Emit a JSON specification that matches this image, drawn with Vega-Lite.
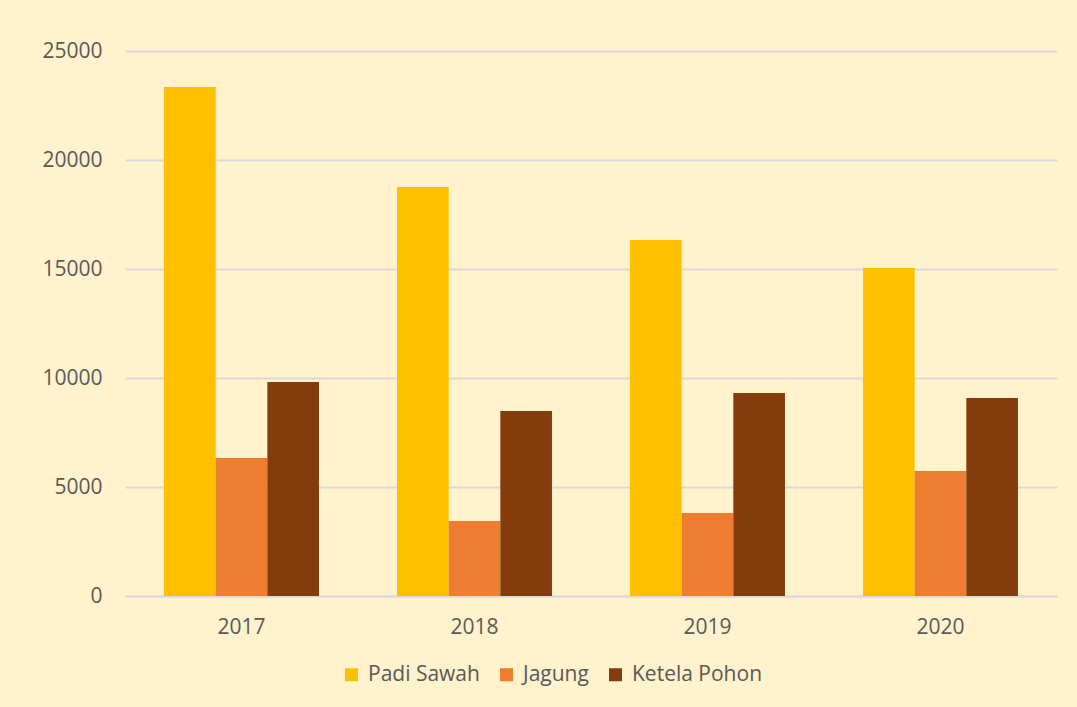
{
  "$schema": "https://vega.github.io/schema/vega-lite/v6.json",
  "width": 932,
  "height": 545,
  "autosize": {"type": "none"},
  "padding": {"left": 125, "top": 51, "right": 20, "bottom": 111},
  "background": "#FFF2CC",
  "data": {
    "values": [
      {"year": "2017", "crop": "Padi Sawah", "value": 23350},
      {"year": "2017", "crop": "Jagung", "value": 6330},
      {"year": "2017", "crop": "Ketela Pohon", "value": 9820},
      {"year": "2018", "crop": "Padi Sawah", "value": 18760},
      {"year": "2018", "crop": "Jagung", "value": 3440},
      {"year": "2018", "crop": "Ketela Pohon", "value": 8490},
      {"year": "2019", "crop": "Padi Sawah", "value": 16330},
      {"year": "2019", "crop": "Jagung", "value": 3810},
      {"year": "2019", "crop": "Ketela Pohon", "value": 9310},
      {"year": "2020", "crop": "Padi Sawah", "value": 15050},
      {"year": "2020", "crop": "Jagung", "value": 5730},
      {"year": "2020", "crop": "Ketela Pohon", "value": 9080}
    ]
  },
  "mark": {"type": "bar"},
  "encoding": {
    "x": {
      "field": "year", "type": "nominal", "title": null,
      "scale": {"paddingInner": 0.335, "paddingOuter": 0.1675},
      "axis": {"labelAngle": 0, "labelFont": "Open Sans", "labelFontSize": 21, "labelColor": "#595959",
               "labelPadding": 20, "ticks": false, "domainColor": "#D9D9D9", "domainWidth": 2}
    },
    "xOffset": {"field": "crop", "type": "nominal", "sort": ["Padi Sawah", "Jagung", "Ketela Pohon"],
                "scale": {"paddingInner": 0, "paddingOuter": 0}},
    "y": {
      "field": "value", "type": "quantitative", "title": null,
      "scale": {"domain": [0, 25000], "nice": false},
      "axis": {"values": [0, 5000, 10000, 15000, 20000, 25000], "format": "d", "labelFont": "Open Sans",
               "labelFontSize": 21, "labelColor": "#595959", "labelPadding": 23, "ticks": false, "domain": false,
               "gridColor": "#D9D9D9", "gridWidth": 2}
    },
    "color": {
      "field": "crop", "type": "nominal", "sort": ["Padi Sawah", "Jagung", "Ketela Pohon"],
      "scale": {"domain": ["Padi Sawah", "Jagung", "Ketela Pohon"], "range": ["#FFC000", "#ED7D31", "#843C0C"]},
      "legend": {"title": null, "orient": "none", "direction": "horizontal", "legendX": 216, "legendY": 613,
                 "symbolType": "square", "symbolSize": 170, "symbolStrokeWidth": 0, "labelFont": "Open Sans",
                 "labelFontSize": 21, "labelColor": "#595959", "columnPadding": 16, "labelOffset": 6}
    }
  },
  "config": {"view": {"stroke": null}}
}
